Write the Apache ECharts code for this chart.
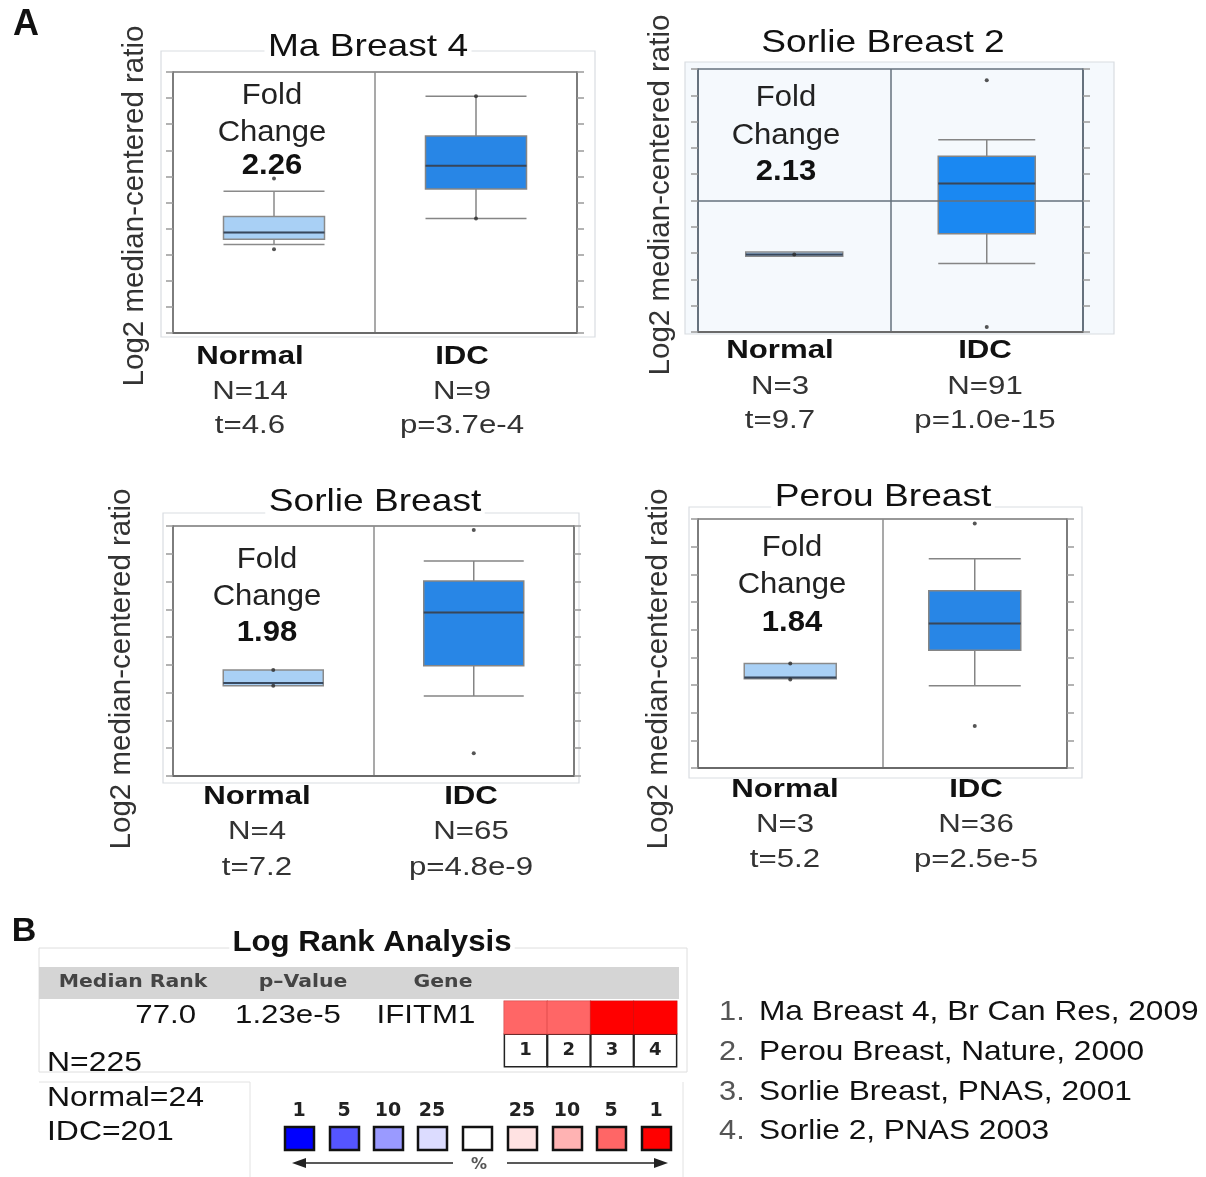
<!DOCTYPE html>
<html>
<head>
<meta charset="utf-8">
<title>IFITM1 Oncomine</title>
<script src="https://cdn.jsdelivr.net/npm/echarts@6/dist/echarts.min.js"></script>
<style>
  html, body { margin: 0; padding: 0; background: #fff; }
  #main { width: 1206px; height: 1177px; }
</style>
</head>
<body>
<div id="main"></div>
<script>
(function(){
  'use strict';

  // ---- data (arbitrary log2 units from bottom of axis) ----
  var categories = ['Normal', 'IDC'];
  var titles = ['Ma Breast 4', 'Sorlie Breast 2', 'Sorlie Breast', 'Perou Breast'];
  // [min, Q1, median, Q3, max]
  var normalBoxes = [
    [3.39, 3.59, 3.85, 4.46, 5.43],
    [2.88, 2.88, 2.95, 3.04, 3.04],
    [3.25, 3.25, 3.35, 3.82, 3.82],
    [3.23, 3.23, 3.27, 3.78, 3.78]
  ];
  var idcBoxes = [
    [4.39, 5.52, 6.41, 7.55, 9.07],
    [2.60, 3.74, 5.65, 6.68, 7.31],
    [2.88, 3.97, 5.89, 7.02, 7.74],
    [2.97, 4.26, 5.22, 6.41, 7.56]
  ];
  var dots = [
    [[0, 3.21], [0, 5.92], [1, 4.39], [1, 9.07]],
    [[0, 2.95], [1, 9.57], [1, 0.19]],
    [[0, 3.82], [0, 3.25], [1, 8.86], [1, 0.82]],
    [[0, 3.78], [0, 3.20], [1, 8.84], [1, 1.52]]
  ];
  var yMax = [10, 10, 9, 9];
  var zeroLine = [null, 5, null, null];
  var foldChanges = ['2.26', '2.13', '1.98', '1.84'];
  var normalN = ['14', '3', '4', '3'];
  var idcN = ['9', '91', '65', '36'];
  var tValues = ['4.6', '9.7', '7.2', '5.2'];
  var pValues = ['3.7e-4', '1.0e-15', '4.8e-9', '2.5e-5'];

  // panel B
  var rankDatasets = ['1', '2', '3', '4'];
  var rankPercent = [5, 5, 1, 1];
  var legendPercents = ['1', '5', '10', '25', '', '25', '10', '5', '1'];
  var legendColors = ['#0000ff', '#5555ff', '#9a9aff', '#dcdcff', '#ffffff', '#ffe2e2', '#ffb3b3', '#ff6666', '#ff0000'];
  var references = ['Ma Breast 4, Br Can Res, 2009', 'Perou Breast, Nature, 2000',
                    'Sorlie Breast, PNAS, 2001', 'Sorlie 2, PNAS 2003'];

  // ---- layout ----
  var panels = [
    {grid: {left: 173, top: 72, width: 404, height: 261}, frame: [161, 51, 434, 286], box: 101,
     title: [368, 47], yTitle: [135, 206], foldX: 272, foldY: [96, 133, 166],
     normalX: 250, idcX: 462, labelY: [357, 392, 426], bg: null, border: '#777'},
    {grid: {left: 698, top: 69, width: 385, height: 263}, frame: [685, 62, 429, 272], box: 97,
     title: [883, 43], yTitle: [661, 195], foldX: 786, foldY: [98, 136, 172],
     normalX: 780, idcX: 985, labelY: [351, 387, 421], bg: '#f5f9fd', border: '#65717d'},
    {grid: {left: 173, top: 526, width: 401, height: 250}, frame: [163, 513, 416, 270], box: 100,
     title: [375, 502], yTitle: [122, 669], foldX: 267, foldY: [560, 597, 633],
     normalX: 257, idcX: 471, labelY: [797, 832, 868], bg: null, border: '#777'},
    {grid: {left: 698, top: 519, width: 369, height: 249}, frame: [689, 507, 393, 271], box: 92,
     title: [883, 497], yTitle: [659, 669], foldX: 792, foldY: [548, 585, 623],
     normalX: 785, idcX: 976, labelY: [790, 825, 860], bg: null, border: '#777'}
  ];

  var FONT = '"Liberation Sans", Arial, sans-serif';
  var DV = '"DejaVu Sans", Verdana, sans-serif';

  function txt(x, y, s, size, o) {
    o = o || {};
    return {
      type: 'text', x: x, y: y, z: 10,
      scaleX: o.sx || 1, rotation: o.rot || 0,
      style: {
        text: s, fontSize: size, fontFamily: o.family || FONT,
        fontWeight: o.bold ? 'bold' : 'normal', fill: o.color || '#111',
        align: o.align || 'center', textAlign: o.align || 'center',
        verticalAlign: 'middle', textVerticalAlign: 'middle',
        backgroundColor: o.bg, padding: o.bg ? [0, 3] : 0
      }
    };
  }

  var grids = [], xAxes = [], yAxes = [], series = [], graphics = [];

  panels.forEach(function(p, i){
    var g = p.grid;
    grids.push({left: g.left, top: g.top, width: g.width, height: g.height,
      show: true, borderColor: p.border, borderWidth: 1.5, backgroundColor: 'transparent'});

    xAxes.push({type: 'category', gridIndex: i, data: categories, boundaryGap: true,
      axisLine: {show: true, lineStyle: {color: '#6a6a6a', width: 2}},
      axisTick: {show: false}, axisLabel: {show: false},
      splitLine: {show: true, lineStyle: {color: i === 1 ? '#65717d' : '#8c8c8c', width: 1.5}}});

    ['left', 'right'].forEach(function(pos){
      yAxes.push({type: 'value', gridIndex: i, position: pos, min: 0, max: yMax[i], interval: 1,
        axisLine: {show: true, lineStyle: {color: p.border, width: 1.5}},
        axisTick: {show: true, inside: false, length: 7, lineStyle: {color: '#9a9a9a', width: 1.5}},
        axisLabel: {show: false}, splitLine: {show: false}});
    });

    var bp = {
      type: 'boxplot', xAxisIndex: i, yAxisIndex: i * 2, boxWidth: [p.box, p.box], silent: true,
      data: [
        {value: normalBoxes[i], itemStyle: {color: '#a9d0f5', borderColor: '#8a8a8a', borderWidth: 1.5}},
        {value: idcBoxes[i], itemStyle: {color: i === 1 ? '#1a88f2' : '#2886e6', borderColor: '#858585', borderWidth: 1.5}}
      ]
    };
    if (zeroLine[i] != null) {
      bp.markLine = {silent: true, symbol: 'none', label: {show: false},
        lineStyle: {color: '#65717d', width: 1.5, type: 'solid'}, data: [{yAxis: zeroLine[i]}]};
    }
    series.push(bp);

    series.push({type: 'scatter', xAxisIndex: i, yAxisIndex: i * 2, silent: true, z: 3,
      symbol: 'rect', symbolSize: [p.box, 2],
      itemStyle: {color: '#223650'},
      data: [[0, normalBoxes[i][2]], [1, idcBoxes[i][2]]]});

    series.push({type: 'scatter', xAxisIndex: i, yAxisIndex: i * 2, silent: true, z: 4,
      symbolSize: 4, itemStyle: {color: '#2a2a2a'}, data: dots[i]});

    // frames & texts
    var f = p.frame;
    graphics.push({type: 'rect', z: -1, shape: {x: f[0], y: f[1], width: f[2], height: f[3]},
      style: {fill: p.bg || 'none', stroke: '#d9dde2', lineWidth: 1.2}});
    graphics.push(txt(p.title[0], p.title[1], titles[i], 32, {sx: 1.16, bg: '#fff'}));
    graphics.push(txt(p.yTitle[0], p.yTitle[1], 'Log2 median-centered ratio', 29.5,
      {rot: Math.PI / 2, color: '#333'}));
    graphics.push(txt(p.foldX, p.foldY[0], 'Fold', 29, {sx: 1.07, color: '#222'}));
    graphics.push(txt(p.foldX, p.foldY[1], 'Change', 29, {sx: 1.07, color: '#222'}));
    graphics.push(txt(p.foldX, p.foldY[2], foldChanges[i], 29, {sx: 1.07, bold: true, color: '#111'}));
    graphics.push(txt(p.normalX, p.labelY[0], categories[0], 26, {sx: 1.2, bold: true}));
    graphics.push(txt(p.normalX, p.labelY[1], 'N=' + normalN[i], 26, {sx: 1.2, color: '#333'}));
    graphics.push(txt(p.normalX, p.labelY[2], 't=' + tValues[i], 26, {sx: 1.2, color: '#333'}));
    graphics.push(txt(p.idcX, p.labelY[0], categories[1], 26, {sx: 1.2, bold: true}));
    graphics.push(txt(p.idcX, p.labelY[1], 'N=' + idcN[i], 26, {sx: 1.2, color: '#333'}));
    graphics.push(txt(p.idcX, p.labelY[2], 'p=' + pValues[i], 26, {sx: 1.2, color: '#333'}));
  });

  // ---- panel B: log rank heat row ----
  grids.push({left: 504, top: 1001, width: 173, height: 33, show: false});
  xAxes.push({type: 'category', gridIndex: 4, data: rankDatasets,
    axisLine: {show: false}, axisTick: {show: false}, splitLine: {show: false},
    axisLabel: {show: true, interval: 0, margin: 1, fontFamily: DV, fontWeight: 'bold', fontSize: 18,
      color: '#222', backgroundColor: '#fff', borderColor: '#222', borderWidth: 1.5,
      width: 41, height: 31, lineHeight: 31, align: 'center', verticalAlign: 'top'}});
  yAxes.push({type: 'category', gridIndex: 4, data: ['IFITM1'], show: false});
  var heatIndex = series.length;
  series.push({type: 'heatmap', xAxisIndex: 4, yAxisIndex: 8, silent: true,
    itemStyle: {borderColor: 'rgba(170,30,30,0.35)', borderWidth: 1},
    data: rankPercent.map(function(v, k){ return [k, 0, v]; })});

  // panel B decorations
  graphics.push({type: 'rect', z: -1, shape: {x: 39, y: 948, width: 648, height: 124},
    style: {fill: 'none', stroke: '#dedede', lineWidth: 1}});
  graphics.push({type: 'polyline', z: -1, shape: {points: [[39, 1082], [250, 1082], [250, 1177]]},
    style: {stroke: '#e2e2e2', lineWidth: 1}});
  graphics.push({type: 'line', z: -1, shape: {x1: 683, y1: 1082, x2: 683, y2: 1177},
    style: {stroke: '#e2e2e2', lineWidth: 1}});
  graphics.push({type: 'rect', z: 0, shape: {x: 39, y: 967, width: 640, height: 32},
    style: {fill: '#d5d5d5'}});

  graphics.push(txt(26, 25, 'A', 36, {bold: true}));
  graphics.push(txt(24, 932, 'B', 34, {bold: true}));
  graphics.push(txt(372, 943, 'Log Rank Analysis', 30, {bold: true, sx: 1.04, bg: '#fff'}));
  graphics.push(txt(133, 983, 'Median Rank', 17, {family: DV, bold: true, sx: 1.2, color: '#444'}));
  graphics.push(txt(303, 983, 'p\u2013Value', 17, {family: DV, bold: true, sx: 1.2, color: '#444'}));
  graphics.push(txt(443, 983, 'Gene', 17, {family: DV, bold: true, sx: 1.2, color: '#444'}));
  graphics.push(txt(196, 1016, '77.0', 26, {sx: 1.2, align: 'right'}));
  graphics.push(txt(288, 1016, '1.23e-5', 26, {sx: 1.2}));
  graphics.push(txt(426, 1016, 'IFITM1', 26, {sx: 1.2}));
  graphics.push(txt(47, 1063, 'N=225', 28, {sx: 1.14, align: 'left'}));
  graphics.push(txt(47, 1098, 'Normal=24', 28, {sx: 1.14, align: 'left'}));
  graphics.push(txt(47, 1132, 'IDC=201', 28, {sx: 1.14, align: 'left'}));

  // percentile colour key
  var keyX = [285, 330, 374, 418, 463, 508, 553, 597, 642];
  legendColors.forEach(function(c, k){
    graphics.push({type: 'rect', shape: {x: keyX[k], y: 1127, width: 29, height: 23},
      style: {fill: c, stroke: '#111', lineWidth: 2.5}});
    if (legendPercents[k]) {
      graphics.push(txt(keyX[k] + 14, 1111, legendPercents[k], 19, {family: DV, bold: true, color: '#222'}));
    }
  });
  graphics.push({type: 'line', shape: {x1: 453, y1: 1163, x2: 302, y2: 1163}, style: {stroke: '#222', lineWidth: 1.5}});
  graphics.push({type: 'polygon', shape: {points: [[292, 1163], [306, 1158], [306, 1168]]}, style: {fill: '#222'}});
  graphics.push({type: 'line', shape: {x1: 507, y1: 1163, x2: 657, y2: 1163}, style: {stroke: '#222', lineWidth: 1.5}});
  graphics.push({type: 'polygon', shape: {points: [[668, 1163], [654, 1158], [654, 1168]]}, style: {fill: '#222'}});
  graphics.push(txt(479, 1165, '%', 16, {family: DV, bold: true, color: '#555'}));

  // dataset list
  var listY = [1012, 1052, 1092, 1131];
  references.forEach(function(r, k){
    graphics.push(txt(719, listY[k], (k + 1) + '.', 28, {sx: 1.1, align: 'left', color: '#555'}));
    graphics.push(txt(759, listY[k], r, 28, {sx: 1.13, align: 'left'}));
  });

  var myChart = echarts.init(document.getElementById('main'));
  var option = {
    animation: false,
    backgroundColor: '#fff',
    grid: grids,
    xAxis: xAxes,
    yAxis: yAxes,
    visualMap: [{
      type: 'piecewise', show: false, seriesIndex: heatIndex, dimension: 2,
      pieces: [
        {min: 0, max: 1, color: '#ff0000'},
        {min: 1.01, max: 5, color: '#ff6666'},
        {min: 5.01, max: 10, color: '#ffaaaa'},
        {min: 10.01, max: 25, color: '#ffdddd'}
      ]
    }],
    series: series,
    graphic: {elements: graphics}
  };
  myChart.setOption(option);
}());
</script>
</body>
</html>
